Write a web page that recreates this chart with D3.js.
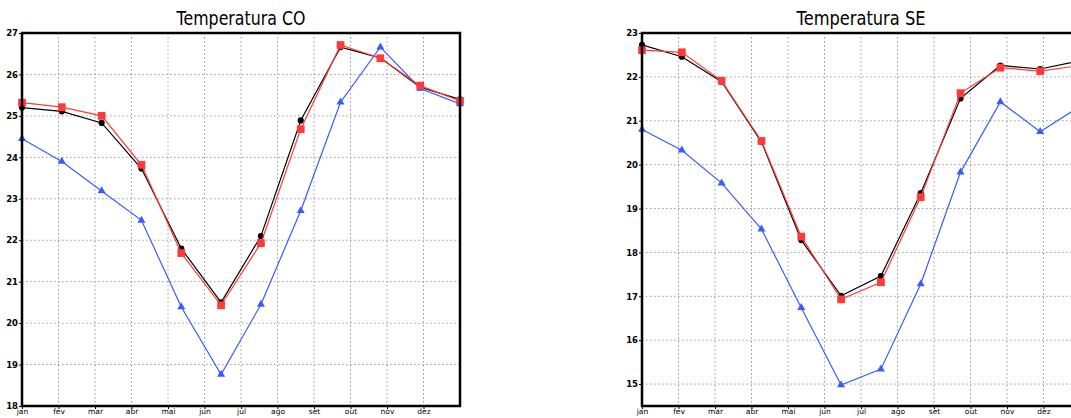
<!DOCTYPE html>
<html><head><meta charset="utf-8">
<script src="https://cdn.jsdelivr.net/npm/d3@7"></script>
<style>body{margin:0;background:#fff;}svg{display:block;}</style>
</head><body>
<svg id="c" width="1071" height="418"></svg>
<script>
const months = ["jan","fev","mar","abr","mai","jun","jul","ago","set","out","nov","dez"];
const coTicks = [18,19,20,21,22,23,24,25,26,27];
const seTicks = [15,16,17,18,19,20,21,22,23];
const coBlack = [25.2,25.11,24.83,23.73,21.8,20.5,22.1,24.89,26.66,26.4,25.69,25.4];
const coRed   = [25.32,25.21,25.0,23.82,21.69,20.43,21.93,24.68,26.71,26.39,25.73,25.36];
const coBlue  = [24.45,23.9,23.19,22.48,20.39,18.76,20.45,22.71,25.33,26.66,25.66,25.29];
const seBlack = [22.73,22.46,21.89,20.52,18.28,17.01,17.46,19.35,21.51,22.26,22.18,22.37];
const seRed   = [22.61,22.56,21.91,20.54,18.36,16.93,17.32,19.26,21.63,22.21,22.13,22.26];
const seBlue  = [20.8,20.33,19.58,18.53,16.74,14.98,15.34,17.28,19.83,21.43,20.75,21.33];

const svg = d3.select("#c");
const plotTop = 33, plotBottom = 406, W = 438;

function panel(x0, title, yDomain, yTicks, series) {
  const g = svg.append("g");
  const x = d3.scalePoint().domain(months).range([x0, x0 + W]);
  const xm = d3.scaleLinear().domain([0, 12]).range([x0, x0 + W]);
  const y = d3.scaleLinear().domain(yDomain).range([plotBottom, plotTop]);

  // grid
  g.append("g").selectAll("line").data(yTicks).join("line")
    .attr("x1", x0).attr("x2", x0 + W).attr("y1", d => y(d)).attr("y2", d => y(d))
    .attr("stroke", "#9a9a9a").attr("stroke-width", 1).attr("stroke-dasharray", "1.5,2.5");
  g.append("g").selectAll("line").data(d3.range(1, 12)).join("line")
    .attr("x1", d => xm(d)).attr("x2", d => xm(d)).attr("y1", plotTop).attr("y2", plotBottom)
    .attr("stroke", "#9a9a9a").attr("stroke-width", 1).attr("stroke-dasharray", "1.5,2.5");

  // axes
  const ya = g.append("g").attr("transform", `translate(${x0},0)`)
    .call(d3.axisLeft(y).tickValues(yTicks).tickSize(3).tickPadding(1).tickFormat(d3.format("d")));
  ya.select(".domain").remove();
  ya.selectAll("text").attr("font-family", "DejaVu Sans").attr("font-size", 8.5).attr("font-weight", "bold").attr("fill", "#000");
  const xa = g.append("g").attr("transform", `translate(0,${plotBottom})`)
    .call(d3.axisBottom(xm).tickValues(d3.range(0, 12)).tickSize(3).tickPadding(0).tickFormat(i => months[i]));
  xa.select(".domain").remove();
  xa.selectAll("text").attr("font-family", "DejaVu Sans").attr("font-size", 7.5).attr("fill", "#000");

  // series
  const line = d3.line().x((d, i) => x(months[i])).y(d => y(d));
  series.forEach(s => {
    g.append("path").datum(s.values).attr("d", line).attr("fill", "none")
      .attr("stroke", s.color).attr("stroke-width", 1.2);
    g.append("g").selectAll("path").data(s.values).join("path")
      .attr("transform", (d, i) => `translate(${x(months[i])},${y(d)})`)
      .attr("d", d3.symbol().type(s.sym).size(s.size))
      .attr("fill", s.color);
  });

  // frame
  g.append("rect").attr("x", x0).attr("y", plotTop).attr("width", W).attr("height", plotBottom - plotTop)
    .attr("fill", "none").attr("stroke", "#000").attr("stroke-width", 2.5);

  g.append("text").attr("x", x0 + W / 2).attr("y", 25).attr("text-anchor", "middle")
    .attr("font-family", "DejaVu Sans").attr("font-size", 19)
    .attr("textLength", 129).attr("lengthAdjust", "spacingAndGlyphs")
    .text(title);
}

panel(22, "Temperatura CO", [18, 27], coTicks, [
  {values: coBlack, color: "#000000", sym: d3.symbolCircle, size: 30},
  {values: coBlue, color: "#3a5cff", sym: d3.symbolTriangle, size: 28},
  {values: coRed, color: "#ff3a3a", sym: d3.symbolSquare, size: 60}
]);
panel(642, "Temperatura SE", [14.5, 23], seTicks, [
  {values: seBlack, color: "#000000", sym: d3.symbolCircle, size: 30},
  {values: seBlue, color: "#3a5cff", sym: d3.symbolTriangle, size: 28},
  {values: seRed, color: "#ff3a3a", sym: d3.symbolSquare, size: 60}
]);
</script>
</body></html>
